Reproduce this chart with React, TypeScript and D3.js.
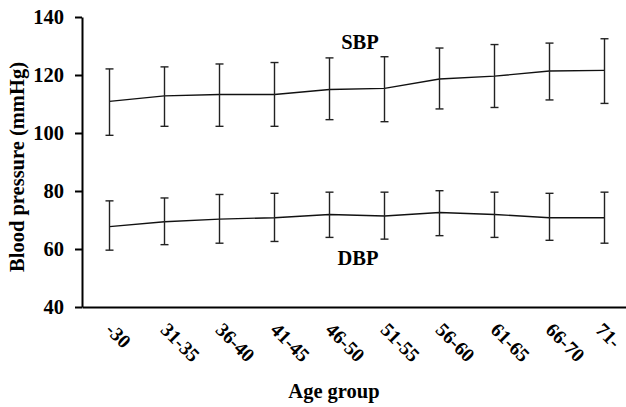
import { useEffect, useRef } from "react";
import * as d3 from "d3";

const ageGroups = ["-30", "31-35", "36-40", "41-45", "46-50", "51-55", "56-60", "61-65", "66-70", "71-"];
const sbpMean = [110.9, 112.8, 113.3, 113.3, 115.0, 115.4, 118.6, 119.6, 121.4, 121.6];
const sbpHigh = [122.1, 122.8, 123.8, 124.3, 125.9, 126.3, 129.3, 130.5, 131.0, 132.5];
const sbpLow = [99.2, 102.3, 102.3, 102.3, 104.6, 103.9, 108.3, 108.8, 111.4, 110.2];
const dbpMean = [67.7, 69.4, 70.3, 70.8, 71.9, 71.4, 72.6, 71.9, 70.8, 70.8];
const dbpHigh = [76.6, 77.6, 78.8, 79.2, 79.6, 79.6, 80.1, 79.6, 79.2, 79.6];
const dbpLow = [59.6, 61.5, 62.0, 62.6, 64.0, 63.4, 64.6, 64.0, 63.0, 62.0];
const yTicks = [40, 60, 80, 100, 120, 140];

const FONT = "'Liberation Serif', 'Times New Roman', serif";
const FS = "20.5px";

export default function App() {
  const svgRef = useRef<SVGSVGElement>(null);

  useEffect(() => {
    const svg = d3.select(svgRef.current);
    svg.selectAll("*").remove();

    const left = 82, top = 17, bottom = 307;

    const x = d3.scaleBand().domain(ageGroups).range([left, left + 550]).padding(0);
    const y = d3.scaleLinear().domain([40, 140]).range([bottom, top]);
    const cx = (d: string) => (x(d) as number) + x.bandwidth() / 2;

    // axes
    const yAxis = svg.append("g").attr("transform", `translate(${left},0)`)
      .call(d3.axisLeft(y).tickValues(yTicks).tickSize(7).tickSizeOuter(0).tickPadding(11));
    yAxis.select(".domain").attr("stroke", "#000").attr("stroke-width", 2);
    yAxis.selectAll(".tick line").attr("stroke", "#000").attr("stroke-width", 2);
    yAxis.selectAll("text").attr("fill", "#000")
      .style("font-family", FONT).style("font-size", FS).style("font-weight", "bold");

    const xAxis = svg.append("g").attr("transform", `translate(0,${bottom})`)
      .call(d3.axisBottom(x).tickSize(0).tickSizeOuter(0).tickFormat(() => ""));
    xAxis.select(".domain").attr("stroke", "#000").attr("stroke-width", 2);

    // last label nudged left so it stays inside the frame
    svg.append("g").selectAll("text").data(ageGroups).enter().append("text")
      .attr("transform", (d, i) => `translate(${cx(d) - (i === ageGroups.length - 1 ? 10 : 5)},${bottom + 24}) rotate(45)`)
      .style("font-family", FONT).style("font-size", "19.5px").style("font-weight", "bold")
      .text(d => d);

    // titles
    svg.append("text")
      .attr("transform", `translate(24,167) rotate(-90)`)
      .attr("text-anchor", "middle")
      .style("font-family", FONT).style("font-size", FS).style("font-weight", "bold")
      .text("Blood pressure (mmHg)");
    svg.append("text")
      .attr("x", 334).attr("y", 398).attr("text-anchor", "middle")
      .style("font-family", FONT).style("font-size", FS).style("font-weight", "bold")
      .text("Age group");

    const series = [
      { mean: sbpMean, hi: sbpHigh, lo: sbpLow, label: "SBP", lx: 360, ly: 49 },
      { mean: dbpMean, hi: dbpHigh, lo: dbpLow, label: "DBP", lx: 358, ly: 265 },
    ];

    const line = d3.line<number>()
      .x((_, i) => cx(ageGroups[i]))
      .y(d => y(d));

    series.forEach(s => {
      const g = svg.append("g");
      g.append("path").datum(s.mean)
        .attr("fill", "none").attr("stroke", "#111").attr("stroke-width", 1.4).attr("d", line);

      const bars = g.selectAll(".err").data(ageGroups).enter().append("g")
        .attr("stroke", "#222").attr("stroke-width", 1.4);
      bars.append("line")
        .attr("x1", d => cx(d)).attr("x2", d => cx(d))
        .attr("y1", (_, i) => y(s.hi[i])).attr("y2", (_, i) => y(s.lo[i]));
      bars.append("line")
        .attr("x1", d => cx(d) - 4).attr("x2", d => cx(d) + 4)
        .attr("y1", (_, i) => y(s.hi[i])).attr("y2", (_, i) => y(s.hi[i]));
      bars.append("line")
        .attr("x1", d => cx(d) - 4).attr("x2", d => cx(d) + 4)
        .attr("y1", (_, i) => y(s.lo[i])).attr("y2", (_, i) => y(s.lo[i]));

      g.append("text")
        .attr("x", s.lx).attr("y", s.ly).attr("text-anchor", "middle")
        .style("font-family", FONT).style("font-size", FS).style("font-weight", "bold")
        .text(s.label);
    });
  }, []);

  return (
    <svg ref={svgRef} width={626} height={407}
      style={{ display: "block", position: "absolute", left: 0, top: 0, background: "#fff" }} />
  );
}
